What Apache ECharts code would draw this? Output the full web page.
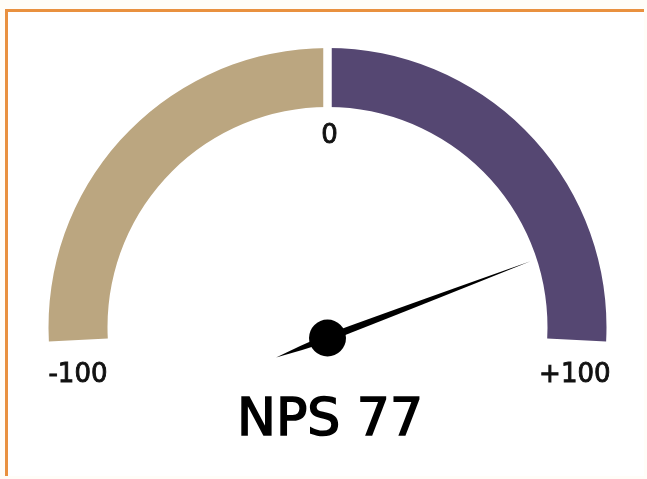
<!DOCTYPE html>
<html>
<head>
<meta charset="utf-8">
<script src="https://cdn.jsdelivr.net/npm/echarts@6/dist/echarts.min.js"></script>
<style>
  html, body { margin: 0; padding: 0; background: #fffdf8; }
  .frame {
    position: absolute; left: 5px; top: 9px; width: 636px; height: 464px;
    background: #fff; border-top: 3px solid #e9913f; border-left: 3px solid #e9913f;
  }
  #chart { position: absolute; left: 0; top: 0; width: 647px; height: 479px; }
</style>
</head>
<body>
<div class="frame"></div>
<div id="chart"></div>
<script>
// values
const gaugeMin = -100;
const gaugeMax = 100;
const npsScore = [77];
const bandStops = [0.5, 1];
const bandColors = ['#bba680', '#554772'];
const tickValues = [-100, 0, 100];
const tickLabels = ['-100', '0', '+100'];

const myChart = echarts.init(document.getElementById('chart'), null, { renderer: 'canvas' });

const font = 'DejaVu Sans';
const hidden = {
  axisTick: { show: false },
  splitLine: { show: false },
  axisLabel: { show: false },
  pointer: { show: false },
  anchor: { show: false },
  title: { show: false },
  detail: { show: false }
};

myChart.setOption({
  animation: false,
  series: [
    // coloured bands
    Object.assign({}, hidden, {
      type: 'gauge',
      center: [327.5, 327],
      radius: 279,
      startAngle: 183,
      endAngle: -3,
      min: gaugeMin,
      max: gaugeMax,
      axisLine: {
        lineStyle: {
          width: 59,
          color: bandStops.map((s, i) => [s, bandColors[i]])
        }
      },
      data: []
    }),
    // white gap at zero
    Object.assign({}, hidden, {
      type: 'gauge',
      center: [327.5, 327],
      radius: 279,
      startAngle: 90,
      endAngle: -270,
      min: 0,
      max: 1,
      splitNumber: 1,
      axisLine: { show: false, lineStyle: { width: 0 } },
      splitLine: { show: true, length: 75, distance: -6, lineStyle: { color: '#fff', width: 8 } },
      data: []
    }),
    // tick labels
    Object.assign({}, hidden, {
      type: 'gauge',
      center: [329.5, 405.7],
      radius: 282.7,
      startAngle: 173.77,
      endAngle: 6.23,
      min: gaugeMin,
      max: gaugeMax,
      splitNumber: tickValues.length - 1,
      axisLine: { show: false, lineStyle: { width: 0 } },
      splitLine: { show: false, length: 0, distance: 0 },
      axisLabel: {
        show: true,
        distance: 0,
        color: '#111',
        fontFamily: font,
        fontSize: 26,
        textBorderColor: '#111',
        textBorderWidth: 0.9,
        formatter: v => tickLabels[tickValues.indexOf(Math.round(v))]
      },
      data: []
    }),
    // needle + score
    {
      type: 'gauge',
      center: [327.5, 338],
      radius: 279,
      startAngle: 180,
      endAngle: 0,
      min: gaugeMin,
      max: gaugeMax,
      axisLine: { show: false, lineStyle: { width: 0 } },
      axisTick: { show: false },
      splitLine: { show: false },
      axisLabel: { show: false },
      pointer: {
        show: true,
        icon: 'path://M5 0 Q8.5 45 10 80 Q8.5 90 5 100 Q1.5 90 0 80 Q1.5 45 5 0 Z',
        length: 272,
        width: 7.5,
        offsetCenter: [0, 55],
        keepAspect: false,
        itemStyle: { color: '#000' }
      },
      anchor: {
        show: true,
        showAbove: true,
        size: 37,
        itemStyle: { color: '#000' }
      },
      title: { show: false },
      detail: {
        show: true,
        offsetCenter: [2.5, 83],
        formatter: 'NPS {value}',
        color: '#000',
        fontFamily: font,
        fontSize: 52,
        fontWeight: 'normal',
        textBorderColor: '#000',
        textBorderWidth: 1.6
      },
      data: npsScore.map(v => ({ value: v }))
    }
  ]
});
</script>
</body>
</html>
